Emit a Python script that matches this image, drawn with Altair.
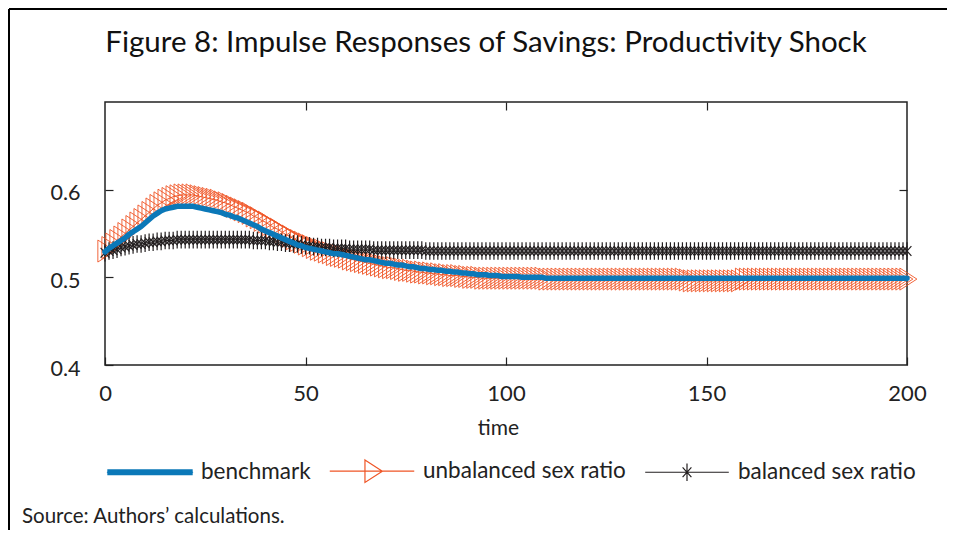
import altair as alt
import pandas as pd

title_text = "Figure 8: Impulse Responses of Savings: Productivity Shock"
source_text = "Source: Authors\u2019 calculations."
x_title = "time"

series_names = ["benchmark", "unbalanced sex ratio", "balanced sex ratio"]
series_colors = ["#0b78b8", "#ef5526", "#231f20"]

x_ticks = [0, 50, 100, 150, 200]
y_ticks = [0.4, 0.5, 0.6]

time = list(range(201))

benchmark = [
    0.529, 0.533, 0.536, 0.539, 0.542, 0.545, 0.549, 0.552, 0.555, 0.558,
    0.562, 0.566, 0.570, 0.573, 0.576, 0.578, 0.579, 0.580, 0.581, 0.581,
    0.581, 0.581, 0.581, 0.580, 0.579, 0.578, 0.577, 0.576, 0.575, 0.574,
    0.572, 0.571, 0.569, 0.568, 0.566, 0.564, 0.562, 0.560, 0.558, 0.555,
    0.553, 0.551, 0.549, 0.547, 0.545, 0.543, 0.541, 0.539, 0.537, 0.536,
    0.534, 0.533, 0.532, 0.531, 0.530, 0.529, 0.528, 0.527, 0.527, 0.526,
    0.525, 0.524, 0.523, 0.522, 0.521, 0.520, 0.520, 0.519, 0.518, 0.517,
    0.516, 0.516, 0.515, 0.514, 0.514, 0.513, 0.512, 0.512, 0.511, 0.510,
    0.510, 0.509, 0.509, 0.508, 0.508, 0.507, 0.507, 0.506, 0.506, 0.505,
    0.505, 0.504, 0.504, 0.503, 0.503, 0.503, 0.502, 0.502, 0.502, 0.501,
    0.501, 0.501, 0.501, 0.501, 0.500, 0.500, 0.500, 0.500, 0.500, 0.500,
    0.499, 0.499, 0.499, 0.499, 0.499, 0.499, 0.499, 0.499, 0.499, 0.499,
    0.499, 0.499, 0.499, 0.499, 0.499, 0.499, 0.499, 0.499, 0.499, 0.499,
    0.499, 0.499, 0.499, 0.499, 0.499, 0.499, 0.499, 0.499, 0.499, 0.499,
    0.499, 0.499, 0.499, 0.499, 0.499, 0.499, 0.499, 0.499, 0.499, 0.499,
    0.499, 0.499, 0.499, 0.499, 0.499, 0.499, 0.499, 0.499, 0.499, 0.499,
    0.499, 0.499, 0.499, 0.499, 0.499, 0.499, 0.499, 0.499, 0.499, 0.499,
    0.499, 0.499, 0.499, 0.499, 0.499, 0.499, 0.499, 0.499, 0.499, 0.499,
    0.499, 0.499, 0.499, 0.499, 0.499, 0.499, 0.499, 0.499, 0.499, 0.499,
    0.499, 0.499, 0.499, 0.499, 0.499, 0.499, 0.499, 0.499, 0.499, 0.499,
    0.499,
]

unbalanced = [
    0.530, 0.534, 0.538, 0.542, 0.546, 0.550, 0.554, 0.558, 0.562, 0.566,
    0.570, 0.574, 0.578, 0.582, 0.585, 0.588, 0.590, 0.592, 0.593, 0.594,
    0.594, 0.594, 0.594, 0.593, 0.592, 0.591, 0.590, 0.589, 0.588, 0.586,
    0.585, 0.583, 0.581, 0.579, 0.577, 0.575, 0.573, 0.570, 0.568, 0.565,
    0.563, 0.560, 0.557, 0.555, 0.552, 0.549, 0.547, 0.544, 0.542, 0.540,
    0.538, 0.536, 0.534, 0.532, 0.531, 0.529, 0.528, 0.526, 0.525, 0.524,
    0.523, 0.521, 0.520, 0.519, 0.518, 0.517, 0.516, 0.515, 0.514, 0.513,
    0.512, 0.511, 0.511, 0.510, 0.509, 0.508, 0.508, 0.507, 0.506, 0.506,
    0.505, 0.505, 0.504, 0.504, 0.503, 0.503, 0.502, 0.502, 0.502, 0.501,
    0.501, 0.500, 0.500, 0.500, 0.499, 0.499, 0.499, 0.499, 0.499, 0.499,
    0.499, 0.499, 0.499, 0.499, 0.499, 0.499, 0.499, 0.499, 0.499, 0.499,
    0.498, 0.498, 0.498, 0.498, 0.498, 0.498, 0.498, 0.498, 0.498, 0.498,
    0.498, 0.498, 0.498, 0.498, 0.498, 0.498, 0.498, 0.498, 0.498, 0.498,
    0.498, 0.498, 0.498, 0.498, 0.498, 0.498, 0.498, 0.498, 0.498, 0.498,
    0.498, 0.498, 0.498, 0.498, 0.498, 0.497, 0.496, 0.496, 0.496, 0.496,
    0.496, 0.496, 0.496, 0.496, 0.496, 0.496, 0.496, 0.496, 0.496, 0.498,
    0.498, 0.498, 0.498, 0.498, 0.498, 0.498, 0.498, 0.498, 0.498, 0.498,
    0.498, 0.498, 0.498, 0.498, 0.498, 0.498, 0.498, 0.498, 0.498, 0.498,
    0.498, 0.498, 0.498, 0.498, 0.498, 0.498, 0.498, 0.498, 0.498, 0.498,
    0.498, 0.498, 0.498, 0.498, 0.498, 0.498, 0.498, 0.498, 0.498, 0.498,
    0.498,
]

balanced = [
    0.528, 0.530, 0.531, 0.532, 0.534, 0.535, 0.536, 0.537, 0.538, 0.538,
    0.539, 0.540, 0.540, 0.541, 0.541, 0.542, 0.542, 0.542, 0.543, 0.543,
    0.543, 0.543, 0.543, 0.543, 0.543, 0.543, 0.543, 0.543, 0.543, 0.543,
    0.543, 0.543, 0.543, 0.543, 0.543, 0.543, 0.543, 0.542, 0.542, 0.542,
    0.542, 0.541, 0.541, 0.540, 0.540, 0.539, 0.539, 0.538, 0.538, 0.537,
    0.536, 0.536, 0.535, 0.535, 0.534, 0.534, 0.534, 0.533, 0.533, 0.533,
    0.533, 0.532, 0.532, 0.532, 0.532, 0.532, 0.532, 0.531, 0.531, 0.531,
    0.531, 0.531, 0.531, 0.531, 0.531, 0.531, 0.531, 0.531, 0.531, 0.531,
    0.530, 0.530, 0.530, 0.530, 0.530, 0.530, 0.530, 0.530, 0.530, 0.530,
    0.530, 0.530, 0.530, 0.530, 0.530, 0.530, 0.530, 0.530, 0.530, 0.530,
    0.530, 0.530, 0.530, 0.530, 0.530, 0.530, 0.530, 0.530, 0.530, 0.530,
    0.530, 0.530, 0.530, 0.530, 0.530, 0.530, 0.530, 0.530, 0.530, 0.530,
    0.530, 0.530, 0.530, 0.530, 0.530, 0.530, 0.530, 0.530, 0.530, 0.530,
    0.530, 0.530, 0.530, 0.530, 0.530, 0.530, 0.530, 0.530, 0.530, 0.530,
    0.530, 0.530, 0.530, 0.530, 0.530, 0.530, 0.530, 0.530, 0.530, 0.530,
    0.530, 0.530, 0.530, 0.530, 0.530, 0.530, 0.530, 0.530, 0.530, 0.530,
    0.530, 0.530, 0.530, 0.530, 0.530, 0.530, 0.530, 0.530, 0.530, 0.530,
    0.530, 0.530, 0.530, 0.530, 0.530, 0.530, 0.530, 0.530, 0.530, 0.530,
    0.530, 0.530, 0.530, 0.530, 0.530, 0.530, 0.530, 0.530, 0.530, 0.530,
    0.530, 0.530, 0.530, 0.530, 0.530, 0.530, 0.530, 0.530, 0.530, 0.530,
    0.530,
]

FONT = "Lato"
TXT = "#222222"

# marker shapes (unit square paths)
tri_path = "M-0.65,-1L0.9,0L-0.65,1Z"
star_path = "M0,-1L0,1M-0.5,-0.55L0.5,0.55M-0.5,0.55L0.5,-0.55"

# legend symbols: line + marker drawn in one path
leg_bench = ("M-0.97,-0.055L0.97,-0.055M-0.97,-0.0275L0.97,-0.0275M-0.98,0L0.98,0"
             "M-0.97,0.0275L0.97,0.0275M-0.97,0.055L0.97,0.055")
leg_unbal = "M-0.96,0L0.96,0M-0.16,-0.255L0.235,0L-0.16,0.255Z"
leg_bal = "M-0.95,0L0.95,0M0,-0.2L0,0.2M-0.1,-0.11L0.1,0.11M-0.1,0.11L0.1,-0.11"
legend_paths = [leg_bench, leg_unbal, leg_bal]

rows = []
for name, vals in zip(series_names, [benchmark, unbalanced, balanced]):
    for t, v in zip(time, vals):
        rows.append({"time": t, "value": v, "series": name})
df = pd.DataFrame(rows)

xscale = alt.Scale(domain=[0, 200], nice=False, zero=False)
yscale = alt.Scale(domain=[0.4, 0.7], nice=False, zero=False)

x_main = alt.X(
    "time:Q", scale=xscale, title=x_title,
    axis=alt.Axis(values=x_ticks, orient="bottom", offset=-8, tickSize=8, domain=False,
                  grid=False, labelPadding=18, labelFontSize=22, labelFont=FONT,
                  labelColor=TXT, tickColor=TXT, tickWidth=1.2, labelFlush=False,
                  titleFont=FONT, titleFontSize=21, titleFontWeight="normal",
                  titleColor=TXT, titlePadding=13, titleX=393, titleAnchor="start",
                  titleAlign="center"),
)
y_main = alt.Y(
    "value:Q", scale=yscale, title=None,
    axis=alt.Axis(values=y_ticks, orient="left", offset=-8, tickSize=8, domain=False,
                  grid=False, labelPadding=25, labelFontSize=21.5, labelFont=FONT,
                  labelColor=TXT, tickColor=TXT, tickWidth=1.2, format=".1f",
                  labelOffset=4, labelFlush=False),
)
x_top = alt.X(
    "time:Q", scale=xscale, title=None,
    axis=alt.Axis(values=[50, 100, 150], orient="top", offset=-8, tickSize=8,
                  domain=False, grid=False, labels=False, tickColor=TXT, tickWidth=1.2),
)
y_right = alt.Y(
    "value:Q", scale=yscale, title=None,
    axis=alt.Axis(values=[0.5, 0.6], orient="right", offset=-8, tickSize=8,
                  domain=False, grid=False, labels=False, tickColor=TXT, tickWidth=1.2),
)
x_none = alt.X("time:Q", scale=xscale, axis=None)
y_none = alt.Y("value:Q", scale=yscale, axis=None)

base = alt.Chart(df)

unbal_pts = base.transform_filter(alt.datum.series == series_names[1]).mark_point(
    shape=tri_path, filled=False, color=series_colors[1], size=484, strokeWidth=0.9,
    opacity=1,
).encode(x=x_main, y=y_main)

unbal_line = base.transform_filter(alt.datum.series == series_names[1]).mark_line(
    color=series_colors[1], strokeWidth=1,
).encode(x=x_top, y=y_right)

bal_line = base.transform_filter(alt.datum.series == series_names[2]).mark_line(
    color=series_colors[2], strokeWidth=1,
).encode(x=x_none, y=y_none)

bal_pts = base.transform_filter(alt.datum.series == series_names[2]).mark_point(
    shape=star_path, filled=False, color=series_colors[2], size=310, strokeWidth=1.2,
    opacity=1,
).encode(x=x_none, y=y_none)

bench_line = base.transform_filter(alt.datum.series == series_names[0]).mark_line(
    color=series_colors[0], strokeWidth=5.5, strokeCap="round", strokeJoin="round",
).encode(x=x_none, y=y_none)

leg_props = dict(title=None, orient="none", legendX=0, legendY=324,
                 direction="horizontal", symbolSize=7744, symbolStrokeWidth=1.2,
                 symbolOpacity=1, labelFont=FONT, labelFontSize=22.5, labelColor=TXT,
                 labelOffset=6, columnPadding=16, padding=0, labelLimit=400)

legend_layer = base.transform_filter("false").mark_point(
    filled=False, opacity=1, strokeWidth=1.2,
).encode(
    x=x_none, y=y_none,
    color=alt.Color("series:N", scale=alt.Scale(domain=series_names, range=series_colors),
                    legend=alt.Legend(**leg_props)),
    shape=alt.Shape("series:N", scale=alt.Scale(domain=series_names, range=legend_paths),
                    legend=alt.Legend(**leg_props)),
)

title_mark = alt.Chart(pd.DataFrame({"t": [title_text]})).mark_text(
    align="center", baseline="alphabetic", font=FONT, fontSize=29.5, color="#111111",
).encode(x=alt.value(381), y=alt.value(-50), text="t:N")

source = alt.Chart(pd.DataFrame({"t": [source_text]})).mark_text(
    align="left", baseline="alphabetic", font=FONT, fontSize=20.5, color=TXT,
).encode(x=alt.value(-83), y=alt.value(421), text="t:N")

frame_df = pd.DataFrame({"k": [0]})
left_border = alt.Chart(frame_df).mark_rule(color="#000000", strokeWidth=2).encode(
    x=alt.value(-96), y=alt.value(-93), y2=alt.value(428))
top_border = alt.Chart(frame_df).mark_rule(color="#000000", strokeWidth=2).encode(
    x=alt.value(-96), x2=alt.value(842), y=alt.value(-93))

chart = alt.layer(
    unbal_pts, unbal_line, bal_line, bal_pts, bench_line, legend_layer,
    title_mark, source, left_border, top_border,
).resolve_axis(x="independent", y="independent").properties(
    width=802, height=263,
    padding={"left": 97, "top": 94, "right": 40, "bottom": 165},
    autosize=alt.AutoSizeParams(type="none"),
    background="white",
).configure_view(stroke="#222222", strokeWidth=1.5)

chart.save("out.html", embed_options={"renderer": "svg", "actions": False})
